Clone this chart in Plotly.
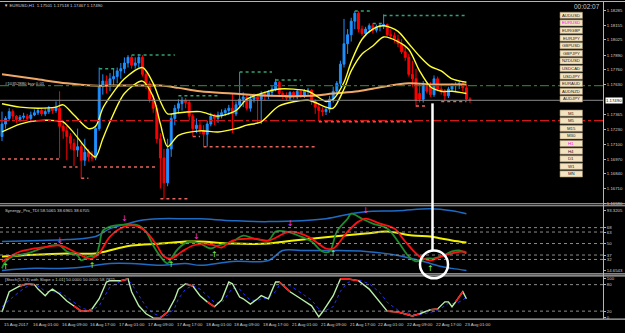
import plotly.graph_objects as go

# ---------------- DATA ----------------
candle_idx = list(range(131))
opens = [1.1717,1.1728,1.1733,1.1739,1.1735,1.1732,1.1734,1.1735,1.1733,1.1736,
         1.1738,1.1740,1.1737,1.1739,1.1742,1.1740,1.1742,1.1726,1.1722,1.1717,
         1.1711,1.1705,1.1708,1.1696,1.1703,1.1699,1.1698,1.1724,1.1761,1.1766,
         1.1763,1.1768,1.1770,1.1775,1.1777,1.1782,1.1787,1.1780,1.1782,1.1787,
         1.1772,1.1764,1.1750,1.1742,1.1715,1.1698,1.1676,1.1706,1.1733,1.1742,
         1.1746,1.1749,1.1747,1.1735,1.1724,1.1727,1.1722,1.1719,1.1728,1.1735,
         1.1733,1.1736,1.1738,1.1740,1.1742,1.1737,1.1745,1.1750,1.1752,1.1742,
         1.1750,1.1752,1.1750,1.1755,1.1753,1.1756,1.1759,1.1765,1.1755,1.1753,
         1.1751,1.1756,1.1752,1.1757,1.1753,1.1757,1.1758,1.1748,1.1743,1.1740,
         1.1739,1.1741,1.1750,1.1757,1.1764,1.1781,1.1799,1.1807,1.1819,1.1826,
         1.1812,1.1808,1.1812,1.1815,1.1811,1.1814,1.1815,1.1816,1.1807,1.1806,
         1.1803,1.1799,1.1792,1.1787,1.1772,1.1768,1.1755,1.1750,1.1763,1.1761,
         1.1754,1.1768,1.1759,1.1757,1.1753,1.1759,1.1762,1.1763,1.1764,1.1760,
         1.17501]
highs = [1.1739,1.1735,1.1742,1.1741,1.1736,1.1736,1.1738,1.1737,1.1739,1.1741,
         1.1742,1.1742,1.1742,1.1744,1.1743,1.1748,1.1757,1.1731,1.1726,1.1720,
         1.1715,1.1724,1.1711,1.1715,1.1706,1.1704,1.1727,1.1778,1.1772,1.1771,
         1.1773,1.1777,1.1778,1.1782,1.1787,1.1789,1.1789,1.1787,1.1790,1.1789,
         1.1775,1.1766,1.1754,1.1745,1.1720,1.1706,1.1715,1.1737,1.1745,1.1750,
         1.1752,1.1751,1.1749,1.1737,1.1733,1.1731,1.1727,1.1731,1.1738,1.1737,
         1.1739,1.1741,1.1742,1.1745,1.1755,1.1748,1.1774,1.1756,1.1754,1.1753,
         1.1755,1.1755,1.1757,1.1757,1.1758,1.1762,1.1768,1.1766,1.1757,1.1756,
         1.1757,1.1757,1.1759,1.1758,1.1759,1.1760,1.1759,1.1750,1.1746,1.1743,
         1.1743,1.1753,1.1761,1.1766,1.1784,1.1821,1.1812,1.1822,1.1828,1.1828,
         1.1815,1.1814,1.1817,1.1817,1.1816,1.1817,1.1825,1.1817,1.1812,1.1809,
         1.1807,1.1803,1.1796,1.1790,1.1784,1.1777,1.1764,1.1766,1.1764,1.1765,
         1.1771,1.1770,1.1762,1.1759,1.1761,1.1764,1.1765,1.1766,1.1765,1.1763,
         1.17518]
lows = [1.1713,1.1724,1.1731,1.1732,1.1729,1.1730,1.1732,1.1731,1.1731,1.1735,
        1.1736,1.1735,1.1735,1.1737,1.1737,1.1738,1.1698,1.1715,1.1696,1.1706,
        1.1691,1.1699,1.1680,1.1691,1.1695,1.1695,1.1696,1.1722,1.1754,1.1755,
        1.1757,1.1761,1.1764,1.1768,1.1773,1.1778,1.1777,1.1777,1.1778,1.1770,
        1.1759,1.1747,1.1738,1.1711,1.1671,1.1662,1.1673,1.1699,1.1727,1.1737,
        1.1740,1.1742,1.1731,1.1717,1.1720,1.1719,1.1708,1.1708,1.1726,1.1727,
        1.1729,1.1733,1.1735,1.1736,1.1720,1.1735,1.1742,1.1743,1.1740,1.1739,
        1.1747,1.1728,1.1728,1.1749,1.1750,1.1753,1.1757,1.1752,1.1750,1.1749,
        1.1749,1.1750,1.1750,1.1751,1.1751,1.1754,1.1745,1.1737,1.1731,1.1735,
        1.1736,1.1738,1.1747,1.1754,1.1761,1.1778,1.1790,1.1801,1.1812,1.1809,
        1.1806,1.1806,1.1809,1.1808,1.1809,1.1810,1.1812,1.1806,1.1803,1.1800,
        1.1796,1.1790,1.1784,1.1770,1.1761,1.1743,1.1747,1.1747,1.1755,1.1752,
        1.1752,1.1757,1.1754,1.1748,1.1751,1.1757,1.1757,1.1759,1.1757,1.1749,
        1.17467]
closes = [1.1728,1.1733,1.1739,1.1735,1.1732,1.1734,1.1735,1.1733,1.1736,1.1738,
          1.1740,1.1737,1.1739,1.1742,1.1740,1.1743,1.1726,1.1722,1.1717,1.1711,
          1.1705,1.1708,1.1696,1.1703,1.1699,1.1698,1.1724,1.1761,1.1766,1.1763,
          1.1768,1.1770,1.1775,1.1777,1.1782,1.1787,1.1780,1.1782,1.1787,1.1772,
          1.1764,1.1750,1.1742,1.1715,1.1698,1.1676,1.1706,1.1733,1.1742,1.1746,
          1.1749,1.1747,1.1735,1.1724,1.1727,1.1722,1.1719,1.1728,1.1735,1.1733,
          1.1736,1.1738,1.1740,1.1742,1.1737,1.1745,1.1750,1.1752,1.1742,1.1750,
          1.1752,1.1750,1.1755,1.1753,1.1756,1.1759,1.1765,1.1755,1.1753,1.1751,
          1.1756,1.1752,1.1757,1.1753,1.1757,1.1758,1.1748,1.1743,1.1740,1.1739,
          1.1741,1.1750,1.1757,1.1764,1.1781,1.1799,1.1807,1.1819,1.1826,1.1812,
          1.1808,1.1812,1.1815,1.1811,1.1814,1.1815,1.1816,1.1807,1.1806,1.1803,
          1.1799,1.1792,1.1787,1.1772,1.1768,1.1749,1.1750,1.1763,1.1757,1.1754,
          1.1768,1.1759,1.1757,1.1753,1.1759,1.1762,1.1763,1.1764,1.1760,1.1750,
          1.17490]

# envelope (yellow) lines
band_x = [0,5,10,15,17,20,24,26,28,30,34,39,42,44,46,49,55,60,65,68,72,77,85,90,92,95,97,100,103,106,110,113,116,119,122,125,129]
band_upper = [1.1746,1.1743,1.1742,1.1743,1.1745,1.1736,1.1724,1.1726,1.1742,1.1752,1.1768,1.1778,1.1764,1.1748,1.1737,1.1738,
              1.1739,1.1735,1.1740,1.1750,1.1755,1.1759,1.1757,1.1748,1.1750,1.1765,1.1783,1.1803,1.1812,1.1815,1.1810,1.1799,
              1.1788,1.1779,1.1775,1.1768,1.1765]
band_lower = [1.1721,1.1728,1.1731,1.1731,1.1730,1.1720,1.1704,1.1699,1.1715,1.1730,1.1755,1.1766,1.1752,1.1728,1.1708,1.1718,
              1.1722,1.1721,1.1724,1.1727,1.1730,1.1744,1.1749,1.1743,1.1742,1.1759,1.1775,1.1790,1.1797,1.1805,1.1801,1.1794,
              1.1775,1.1761,1.1757,1.1757,1.1755]
# slow moving average (orange)
ma_x = [0,9,18,25,30,36,44,49,55,64,74,86,92,99,106,113,120,129]
ma_y = [1.1772,1.1768,1.1764,1.1762,1.1762,1.1762,1.1762,1.1760,1.1757,1.1755,1.1753,1.1753,1.1755,1.1757,1.1761,1.1764,1.1763,1.1763]

# fractal levels: (price, from candle, to candle)
res_level = [1.1777,1.1789,1.1753,1.1774,1.1767,1.1828,1.1817,1.1824]
res_from  = [27,36,49,66,76,98,103,106]
res_to    = [32,48,60,75,83,103,106,129]
sup_level = [1.1697,1.1690,1.1680,1.1690,1.1662,1.1717,1.1708,1.1730,1.1744,1.1748]
sup_from  = [0,17,22,25,44,53,56,88,115,122]
sup_to    = [16,21,24,43,52,55,87,114,118,129]

buy_level = 1.1762
sl_level = 1.1731
bid_price = 1.17490

price_ticks = [1.18285,1.18155,1.18025,1.17890,1.17760,1.17630,1.17365,1.17230,1.17100,1.16970,1.16840,1.16710,1.16580]
price_labels = ["1.18285","1.18155","1.18025","1.17890","1.17760","1.17630","1.17365","1.17230","1.17100","1.16970","1.16840","1.16710","1.16580"]

# Synergy TDI panel
tdi_up_x = [0,11,18,26,30,35,38,44,51,55,64,74,90,97,101,110,119,125,129]
tdi_up_y = [52.3,53.4,54.5,57.9,66.9,72.5,75.9,78.1,78.1,78.1,75.9,74.8,78.1,83.8,86.0,87.1,89.4,87.1,83.8]
tdi_lo_x = [0,9,18,24,30,36,44,51,55,64,74,78,83,92,101,110,119,122,125,129]
tdi_lo_y = [19.6,21.9,21.9,24.1,27.5,27.5,25.3,27.5,25.3,29.8,30.9,42.1,42.1,42.1,41.0,36.5,27.5,24.1,21.9,19.6]
tdi_base_x = [0,5,18,26,32,36,44,51,55,64,74,81,92,101,107,114,119,122,125,129]
tdi_base_y = [35.4,36.5,38.8,38.8,44.4,47.8,50.0,52.3,52.3,50.0,50.0,53.4,57.9,61.3,63.5,59.0,57.9,55.6,53.4,51.1]
tdi_price_x = [0,1,3,7,11,14,16,18,21,22,24,26,27,28,30,34,38,40,42,44,46,47,49,52,55,58,60,64,67,70,74,76,79,83,86,89,91,93,96,97,100,103,107,110,113,115,118,120,122,125,127,129]
tdi_price_y = [21.9,29.8,35.4,38.8,44.4,47.8,47.8,41.0,36.5,30.9,35.4,36.5,47.8,64.6,69.1,71.4,70.3,63.5,47.8,35.4,27.5,33.1,44.4,52.3,50.0,44.4,47.8,52.3,59.0,55.6,53.4,63.5,63.5,57.9,52.3,41.0,41.0,63.5,78.1,83.8,78.1,72.5,66.9,52.3,35.4,29.8,33.1,33.1,35.4,41.0,42.1,38.8]
tdi_sig_x = [0,5,9,13,16,20,24,25,27,30,34,37,40,43,45,47,50,53,56,59,61,64,70,74,80,85,90,92,96,99,101,105,109,112,116,119,122,125,128,129]
tdi_sig_y = [29.8,41.0,44.4,46.6,47.8,41.0,33.1,33.1,38.8,57.9,69.1,70.3,63.5,47.8,35.4,33.1,41.0,47.8,50.0,47.8,45.5,53.4,55.6,53.4,63.5,57.9,44.4,44.4,63.5,74.8,78.1,72.5,66.9,52.3,35.4,30.9,35.4,38.8,41.0,39.9]
tdi_levels = [68,63,50,37,32]
sell_arrow_x = [16,34,54,80,101]
sell_arrow_y = [53.4,78.1,57.9,72.5,87.1]
buy_arrow_x = [1,25,47,59,92,119]
buy_arrow_y = [23.0,24.1,25.3,36.5,37.6,20.8]
tdi_ticks = [87.1,68,63,50,37,32,19.6]
tdi_labels = ["93.3205","68","63","50","37","32","14.6543"]

# Stochastic panel
st_x = [0,2,5,7,9,10,12,13,14,16,18,20,22,24,25,27,29,30,33,35,36,38,40,42,44,46,48,49,51,53,55,57,59,61,63,64,66,67,69,71,72,74,76,77,80,83,86,88,89,92,94,96,99,102,105,107,110,114,116,119,121,123,124,125,126,128,129]
st_y = [18,64,77,82,80,70,55,64,70,59,43,32,20,20,25,48,86,89,89,93,64,32,14,5,5,18,48,70,82,77,55,41,30,45,86,82,52,48,36,48,55,48,86,86,64,48,32,7,18,55,93,93,89,70,41,20,18,9,14,23,25,41,41,30,41,64,48]
st_red_from = [5,20,33,42,51,57,77,94,107,119,126]
st_red_to   = [9,25,35,46,53,59,80,99,116,121,128]
sg_x = [0,2,5,7,9,10,12,14,16,18,20,22,24,25,27,29,30,33,35,36,38,40,42,44,46,48,49,51,53,55,57,59,61,63,64,66,67,69,71,72,74,76,77,80,83,86,88,89,92,94,96,99,102,105,107,110,114,116,119,121,123,124,126,128,129]
sg_y = [30,45,65,76,80,77,65,64,63,52,40,28,22,22,32,60,75,88,90,82,55,30,15,8,10,28,48,70,78,70,55,40,38,60,72,70,60,45,44,48,50,65,78,78,62,45,25,18,30,65,85,91,82,62,40,22,13,12,17,22,32,38,37,45,52]
st_levels = [80,20]
st_ticks = [93.3,80,20,6.5]
st_labels = ["100","80","20","0"]

time_idx = [0,8,16,24,32,40,48,56,64,72,80,88,96,104,112,120,128]
time_labels = ["15 Aug 2017","16 Aug 01:00","16 Aug 09:00","16 Aug 17:00","17 Aug 01:00","17 Aug 09:00",
               "17 Aug 17:00","18 Aug 01:00","18 Aug 09:00","18 Aug 17:00","21 Aug 01:00","21 Aug 09:00",
               "21 Aug 17:00","22 Aug 01:00","22 Aug 09:00","22 Aug 17:00","23 Aug 01:00"]

pair_buttons = ["AUDUSD","EURUSD","EURGBP","EURJPY","GBPUSD","GBPJPY","NZDUSD","USDCAD","USDJPY","EURAUD","AUDNZD","AUDJPY"]
tf_buttons = ["M1","M5","M15","M30","H1","H4","D1","W1","MN"]
active = {"EURUSD","H1"}

# ---------------- LAYOUT HELPERS ----------------
W, H = 625, 333
def PX(x): return x / W
def PY(y): return 1 - y / H
FONT = "Liberation Sans"
TXT = "#D0D0D0"
FS = 4.3
XR = [-0.556, 166.94]
XD = [0, 603 / W]

fig = go.Figure()

fig.add_trace(go.Candlestick(
    x=candle_idx, open=opens, high=highs, low=lows, close=closes,
    increasing=dict(line=dict(color="#1E90FF", width=1), fillcolor="#1E90FF"),
    decreasing=dict(line=dict(color="#FF0000", width=1), fillcolor="#FF0000"),
    whiskerwidth=0, xaxis="x", yaxis="y", hoverinfo="skip"))

def segs(levels, f, t):
    xs, ys = [], []
    for lv, a, b in zip(levels, f, t):
        xs += [a, b, None]; ys += [lv, lv, None]
    return xs, ys

rx, ry = segs(res_level, res_from, res_to)
fig.add_trace(go.Scatter(x=rx, y=ry, mode="lines", line=dict(color="#2FA36F", width=1.5, dash="dot"), xaxis="x", yaxis="y"))
sx, sy = segs(sup_level, sup_from, sup_to)
fig.add_trace(go.Scatter(x=sx, y=sy, mode="lines", line=dict(color="#E2645C", width=1.5, dash="dot"), xaxis="x", yaxis="y"))

fig.add_trace(go.Scatter(x=ma_x, y=ma_y, mode="lines", line=dict(color="#F0A868", width=2, shape="spline"), xaxis="x", yaxis="y"))
fig.add_trace(go.Scatter(x=band_x, y=band_upper, mode="lines", line=dict(color="#FFFF30", width=1.4, shape="spline", smoothing=0.8), xaxis="x", yaxis="y"))
fig.add_trace(go.Scatter(x=band_x, y=band_lower, mode="lines", line=dict(color="#FFFF30", width=1.4, shape="spline", smoothing=0.8), xaxis="x", yaxis="y"))

fig.add_trace(go.Scatter(x=tdi_up_x, y=tdi_up_y, mode="lines", line=dict(color="#1F6BC4", width=1.5, shape="spline"), xaxis="x2", yaxis="y2"))
fig.add_trace(go.Scatter(x=tdi_lo_x, y=tdi_lo_y, mode="lines", line=dict(color="#1F6BC4", width=1.5, shape="spline"), xaxis="x2", yaxis="y2"))
fig.add_trace(go.Scatter(x=tdi_base_x, y=tdi_base_y, mode="lines", line=dict(color="#F2F200", width=2, shape="spline"), xaxis="x2", yaxis="y2"))
fig.add_trace(go.Scatter(x=tdi_price_x, y=tdi_price_y, mode="lines", line=dict(color="#1E8C2A", width=1.8, shape="spline"), xaxis="x2", yaxis="y2"))
fig.add_trace(go.Scatter(x=tdi_sig_x, y=tdi_sig_y, mode="lines", line=dict(color="#FF1010", width=1.8, shape="spline"), xaxis="x2", yaxis="y2"))
fig.add_trace(go.Scatter(x=sell_arrow_x, y=sell_arrow_y, mode="text", text=["↓"] * len(sell_arrow_x),
                         textfont=dict(color="#FF30FF", size=8, family="DejaVu Sans"), xaxis="x2", yaxis="y2"))
fig.add_trace(go.Scatter(x=buy_arrow_x, y=buy_arrow_y, mode="text", text=["↑"] * len(buy_arrow_x),
                         textfont=dict(color="#7CFF50", size=8, family="DejaVu Sans"), xaxis="x2", yaxis="y2"))

fig.add_trace(go.Scatter(x=sg_x, y=sg_y, mode="lines", line=dict(color="#2030FF", width=1, dash="dot"), xaxis="x3", yaxis="y3"))
fig.add_trace(go.Scatter(x=st_x, y=st_y, mode="lines", line=dict(color="#B8F0A8", width=1.4), xaxis="x3", yaxis="y3"))
rxs, rys = [], []
for a, b in zip(st_red_from, st_red_to):
    for xv, yv in zip(st_x, st_y):
        if a <= xv <= b:
            rxs.append(xv); rys.append(yv)
    rxs.append(None); rys.append(None)
fig.add_trace(go.Scatter(x=rxs, y=rys, mode="lines", line=dict(color="#FF1A1A", width=1.6), xaxis="x3", yaxis="y3"))

shapes = []
shapes.append(dict(type="line", xref="paper", yref="y", x0=0, x1=XD[1], y0=buy_level, y1=buy_level,
                   line=dict(color="#1F7A2A", width=1.2, dash="dashdot")))
shapes.append(dict(type="line", xref="paper", yref="y", x0=0, x1=XD[1], y0=sl_level, y1=sl_level,
                   line=dict(color="#D01818", width=1.2, dash="dashdot")))
shapes.append(dict(type="line", xref="paper", yref="y", x0=0, x1=XD[1], y0=bid_price, y1=bid_price,
                   line=dict(color="#8A8A8A", width=1)))
for lv in tdi_levels:
    shapes.append(dict(type="line", xref="paper", yref="y2", x0=0, x1=XD[1], y0=lv, y1=lv,
                       line=dict(color="#8C8C8C", width=1, dash="dot")))
for lv in st_levels:
    shapes.append(dict(type="line", xref="paper", yref="y3", x0=0, x1=XD[1], y0=lv, y1=lv,
                       line=dict(color="#8C8C8C", width=1, dash="dot")))
for yy in [1.5, 205, 207, 275.5, 277.5, 321]:
    shapes.append(dict(type="line", xref="paper", yref="paper", x0=0, x1=1, y0=PY(yy), y1=PY(yy),
                       line=dict(color="#B4B4B4", width=1.2)))
shapes.append(dict(type="line", xref="paper", yref="paper", x0=PX(603.5), x1=PX(603.5), y0=PY(321), y1=PY(1.5),
                   line=dict(color="#B4B4B4", width=1)))
shapes.append(dict(type="line", xref="paper", yref="paper", x0=PX(432.5), x1=PX(432.5), y0=PY(104), y1=PY(252),
                   line=dict(color="#FFFFFF", width=2.5)))
shapes.append(dict(type="circle", xref="paper", yref="paper", x0=PX(420), x1=PX(448), y0=PY(280), y1=PY(252),
                   line=dict(color="#FFFFFF", width=2.5)))

annotations = []
def label(x, y, text, size=FS, color=TXT, xanchor="left", xref="paper", yref="paper", **kw):
    annotations.append(dict(x=x, y=y, xref=xref, yref=yref, text=text, showarrow=False,
                            xanchor=xanchor, yanchor="middle",
                            font=dict(family=FONT, size=size, color=color), **kw))

for k, name in enumerate(pair_buttons):
    top = 12.3 + 7.65 * k
    shapes.append(dict(type="rect", xref="paper", yref="paper", x0=PX(560), x1=PX(582.5), y0=PY(top + 6.2), y1=PY(top),
                       fillcolor="#F4E3C1", line=dict(color="#9A8A68", width=0.6)))
    label(PX(571.2), PY(top + 3.1), name, color="#FF00FF" if name in active else "#202020", xanchor="center")
for k, name in enumerate(tf_buttons):
    top = 110.7 + 7.65 * k
    shapes.append(dict(type="rect", xref="paper", yref="paper", x0=PX(560), x1=PX(582.5), y0=PY(top + 6.2), y1=PY(top),
                       fillcolor="#F4E3C1", line=dict(color="#9A8A68", width=0.6)))
    label(PX(571.2), PY(top + 3.1), name, color="#FF00FF" if name in active else "#202020", xanchor="center")

label(PX(2), PY(5.5), "▼ EURUSD,H1  1.17501 1.17518 1.17467 1.17490")
label(PX(3), PY(84), "#10352880 buy 0.01")
label(PX(3), PY(211.5), "Synergy_Pro_TDI 58.5065 38.6965 38.6705")
label(PX(3), PY(281.5), "[Stoch(5,3,3) with Slope ± 1.01] 50.0000 50.0000 58.7825")
label(PX(602), PY(6.5), "00:02:07", size=6.5, color="#C8C8C8", xanchor="right")
label(PX(605), bid_price, "1.17490", color="#000000", yref="y", bgcolor="#FFFFFF", borderpad=0)
for ti, tl in zip(time_idx, time_labels):
    label(ti, PY(326.5), tl, xref="x3")

axis_common = dict(showgrid=False, zeroline=False)
yfont = dict(family=FONT, size=FS, color=TXT)
fig.update_layout(
    width=W, height=H, margin=dict(l=0, r=0, t=0, b=0),
    paper_bgcolor="#000000", plot_bgcolor="#000000", showlegend=False, hovermode=False,
    boxgap=0.25,
    xaxis=dict(domain=XD, range=XR, visible=False, anchor="y", rangeslider=dict(visible=False), **axis_common),
    xaxis2=dict(domain=XD, range=XR, visible=False, anchor="y2", **axis_common),
    xaxis3=dict(domain=XD, range=XR, visible=False, anchor="y3", **axis_common),
    yaxis=dict(domain=[PY(205), PY(1.5)], range=[1.16575, 1.18364], side="right", anchor="x",
               tickvals=price_ticks, ticktext=price_labels, ticks="outside", ticklen=2, tickcolor="#B4B4B4",
               tickfont=yfont, **axis_common),
    yaxis2=dict(domain=[PY(275.5), PY(207)], range=[15.7, 92.75], side="right", anchor="x2",
                tickvals=tdi_ticks, ticktext=tdi_labels, ticks="outside", ticklen=2, tickcolor="#B4B4B4",
                tickfont=yfont, **axis_common),
    yaxis3=dict(domain=[PY(321), PY(277.5)], range=[2, 100], side="right", anchor="x3",
                tickvals=st_ticks, ticktext=st_labels, ticks="outside", ticklen=2, tickcolor="#B4B4B4",
                tickfont=yfont, **axis_common),
    shapes=shapes, annotations=annotations,
)

fig.write_html("out.html")
